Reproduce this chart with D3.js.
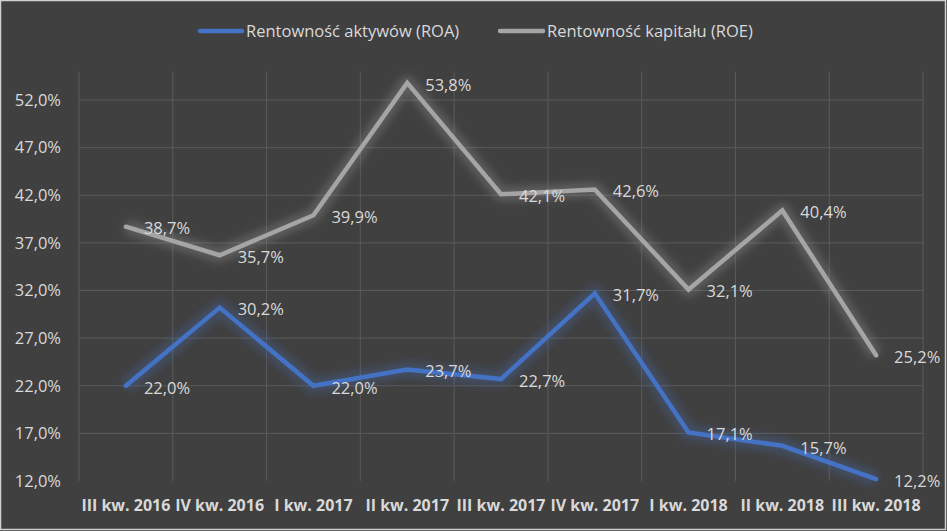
<!DOCTYPE html>
<html><head><meta charset="utf-8">
<script src="https://cdn.jsdelivr.net/npm/d3@7"></script>
<style>body{margin:0;background:#404040;}svg{display:block;}</style>
</head><body>
<svg id="c" width="947" height="531"></svg>
<script>
const categories = ["III kw. 2016","IV kw. 2016","I kw. 2017","II kw. 2017","III kw. 2017","IV kw. 2017","I kw. 2018","II kw. 2018","III kw. 2018"];
const roa = [22.0, 30.2, 22.0, 23.7, 22.7, 31.7, 17.1, 15.7, 12.2];
const roe = [38.7, 35.7, 39.9, 53.8, 42.1, 42.6, 32.1, 40.4, 25.2];
const yTicks = [12, 17, 22, 27, 32, 37, 42, 47, 52];
const seriesNames = ["Rentowność aktywów (ROA)", "Rentowność kapitału (ROE)"];

const svg = d3.select("#c");
const W = 947, H = 531;
const m = {l:79, r:24};
const x = d3.scaleBand().domain(categories).range([m.l, W - m.r]);
const y = d3.scaleLinear().domain([12, 55]).range([481, 481 - 43*9.525]);
const fmt = v => v.toFixed(1).replace(".", ",") + "%";
const FONT = "'Open Sans', sans-serif";

svg.append("rect").attr("x",0.5).attr("y",0.5).attr("width",W-2).attr("height",H-2)
  .attr("fill","#404040").attr("stroke","#d0d0d0").attr("stroke-width",1.5);

const defs = svg.append("defs");
const f = defs.append("filter").attr("id","glow").attr("x","-20%").attr("y","-20%").attr("width","140%").attr("height","140%");
f.append("feGaussianBlur").attr("stdDeviation",4);

// gridlines
const g = svg.append("g");
g.selectAll("line.h").data(yTicks.slice(1)).join("line")
  .attr("x1", m.l).attr("x2", W - m.r).attr("y1", d => y(d)).attr("y2", d => y(d))
  .attr("stroke","#5a5a5a").attr("stroke-width",1);
const xb = categories.map(c => x(c)).concat([W - m.r]);
g.selectAll("line.v").data(xb).join("line")
  .attr("x1", d => d).attr("x2", d => d).attr("y1", y(55)).attr("y2", y(12))
  .attr("stroke","#5a5a5a").attr("stroke-width",1);

// y axis labels
svg.append("g").selectAll("text").data(yTicks).join("text")
  .attr("x", 61).attr("y", d => y(d)).attr("dy","0.35em").attr("text-anchor","end")
  .attr("fill","#d9d9d9").attr("font-family",FONT).attr("font-size",16.5)
  .text(d => d.toFixed(1).replace(".", ",") + "%");

// x axis labels
svg.append("g").selectAll("text").data(categories).join("text")
  .attr("x", d => x(d) + x.bandwidth()/2).attr("y", 505).attr("dy","0.35em").attr("text-anchor","middle")
  .attr("fill","#d9d9d9").attr("font-family",FONT).attr("font-weight","bold").attr("font-size",16)
  .text(d => d);

const line = d3.line().x((d,i) => x(categories[i]) + x.bandwidth()/2).y(d => y(d));
const series = [{v: roa, c:"#4472c4", name: seriesNames[0]}, {v: roe, c:"#a5a5a5", name: seriesNames[1]}];
series.forEach(s => {
  svg.append("path").attr("d", line(s.v)).attr("fill","none").attr("stroke", s.c)
    .attr("stroke-width", 14).attr("stroke-opacity", 0.3).attr("stroke-linejoin","round")
    .attr("filter","url(#glow)");
});
series.forEach(s => {
  svg.append("path").attr("d", line(s.v)).attr("fill","none").attr("stroke", s.c)
    .attr("stroke-width", 4.5).attr("stroke-linejoin","miter").attr("stroke-linecap","round");
});
series.forEach(s => {
  svg.append("g").selectAll("text").data(s.v).join("text")
    .attr("x", (d,i) => x(categories[i]) + x.bandwidth()/2 + 18)
    .attr("y", d => y(d) + 2).attr("dy","0.35em")
    .attr("fill","#d9d9d9").attr("font-family",FONT).attr("font-size",16.5)
    .text(fmt);
});

// legend
const leg = [{x1:200, x2:242, tx:246}, {x1:500, x2:543, tx:547}];
series.forEach((s, i) => {
  svg.append("line").attr("x1", leg[i].x1).attr("x2", leg[i].x2).attr("y1", 31).attr("y2", 31)
    .attr("stroke", s.c).attr("stroke-width", 4.5).attr("stroke-linecap","round");
  svg.append("text").attr("x", leg[i].tx).attr("y", 31).attr("dy","0.35em")
    .attr("fill","#d9d9d9").attr("font-family",FONT).attr("font-size",16.5)
    .text(s.name);
});
</script>
</body></html>
